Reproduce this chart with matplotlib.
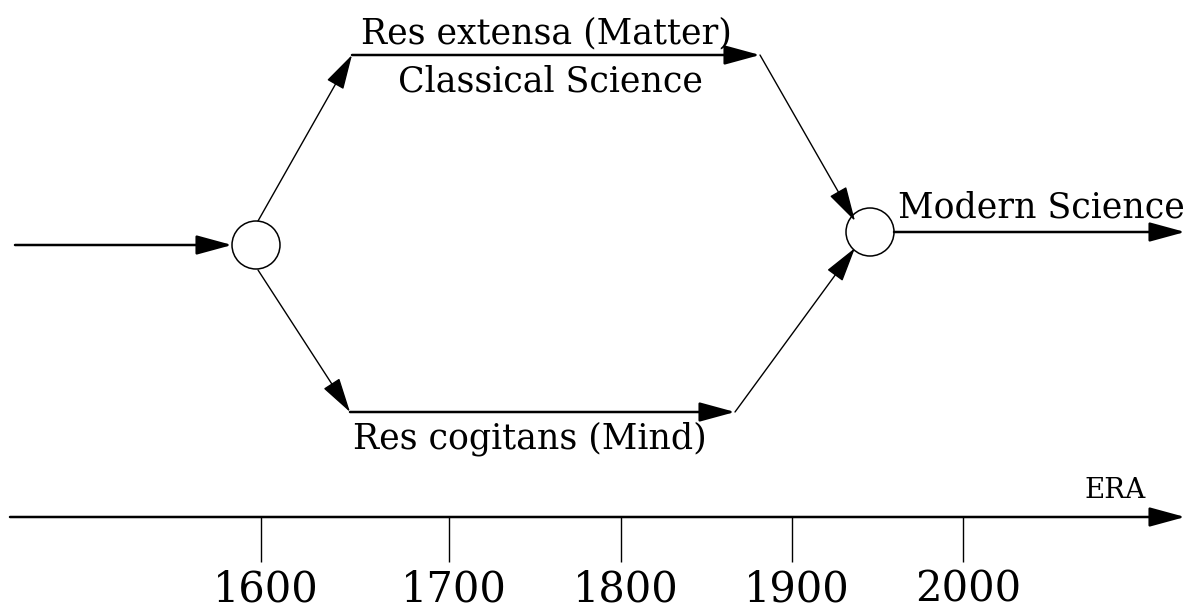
import matplotlib.pyplot as plt
from matplotlib.patches import Circle

# timeline
years = ["1600", "1700", "1800", "1900", "2000"]
year_x = [261, 449, 621, 792, 963]

# branch labels
upper_labels = ["Res extensa (Matter)", "Classical Science"]
lower_label = "Res cogitans (Mind)"
out_label = "Modern Science"
axis_label = "ERA"

fig = plt.figure(figsize=(11.92, 6.08), dpi=100)
ax = fig.add_axes([0, 0, 1, 1])
ax.set_xlim(0, 1192)
ax.set_ylim(608, 0)
ax.axis("off")

font = "DejaVu Serif"
arrow = dict(arrowstyle="-|>,head_length=2.2,head_width=0.6", color="black", lw=1.8,
             shrinkA=0, shrinkB=0)
thin = dict(arrow, lw=1.0)


def arr(p0, p1, props=arrow):
    ax.annotate("", xy=p1, xytext=p0, arrowprops=props)


def seg(p0, p1, lw=1.0):
    ax.plot([p0[0], p1[0]], [p0[1], p1[1]], color="black", lw=lw, solid_capstyle="butt")


# nodes
c1 = (256, 245)
c2 = (870, 232)
r = 24
for c in (c1, c2):
    ax.add_patch(Circle(c, r, fill=False, lw=1.1, ec="black"))

# input
arr((15, 245), (c1[0] - r, 245))

# upper branch
arr((258, 221), (352, 55), thin)
arr((352, 55), (760, 55))
arr((760, 55), (855, 221), thin)

# lower branch
arr((258, 270), (350, 412), thin)
arr((350, 412), (735, 412))
arr((735, 412), (855, 248), thin)

# output
arr((c2[0] + r, 232), (1185, 232))

ax.text(546, 43, upper_labels[0], ha="center", va="baseline", fontsize=25, family=font)
ax.text(550, 92, upper_labels[1], ha="center", va="baseline", fontsize=25, family=font)
ax.text(530, 448, lower_label, ha="center", va="baseline", fontsize=25, family=font)
ax.text(898, 217, out_label, ha="left", va="baseline", fontsize=25, family=font)

# era axis
arr((10, 517), (1185, 517))
ax.text(1146, 498, axis_label, ha="right", va="baseline", fontsize=20, family=font)
for x, lab in zip(year_x, years):
    seg((x, 517), (x, 562))
    ax.text(x + 5, 602, lab, ha="center", va="baseline", fontsize=30, family=font)

fig.savefig("out.png", dpi=100)
